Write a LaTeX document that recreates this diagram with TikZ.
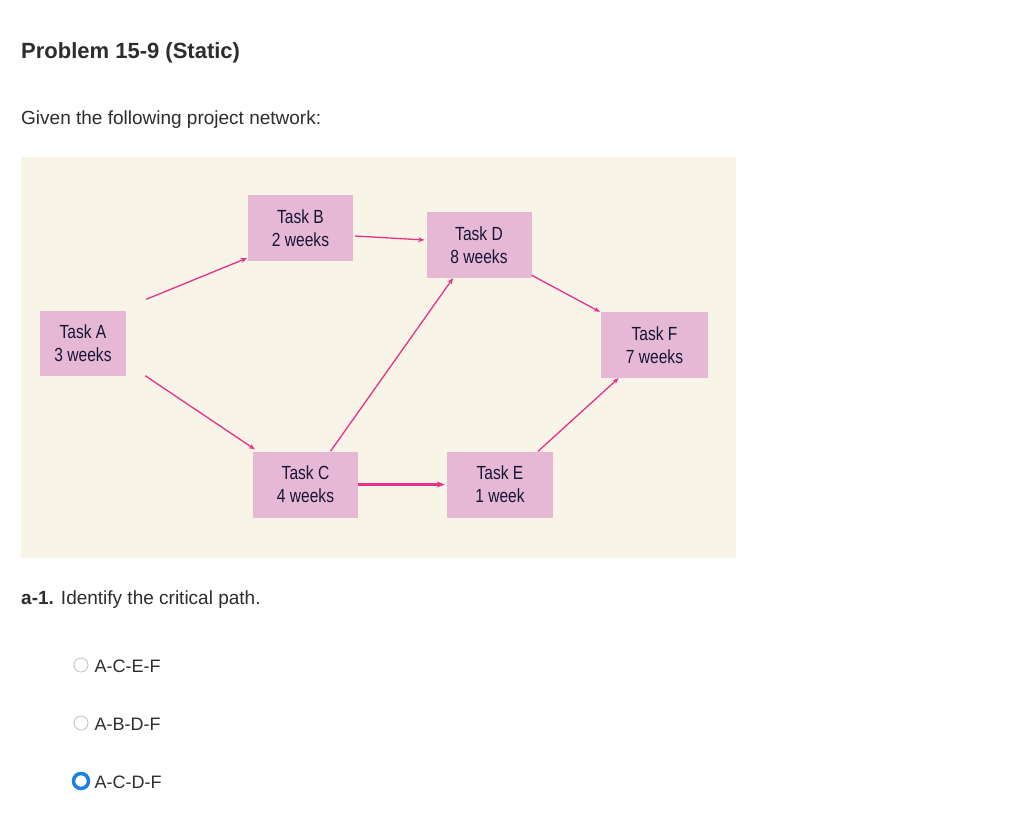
\documentclass[tikz,border=0pt]{standalone}
\usepackage{fontspec}
\setmainfont{Liberation Sans}
\usetikzlibrary{arrows.meta}
\definecolor{bg}{HTML}{F8F5E8}
\definecolor{boxc}{HTML}{E6B8D6}
\definecolor{arr}{HTML}{E8308A}
\definecolor{txt}{HTML}{2D2D2D}
\definecolor{radio}{HTML}{1A7FE8}
\newcommand{\narrow}[1]{\scalebox{0.82}[1]{#1}}
\begin{document}
\begin{tikzpicture}[x=1pt,y=-1pt,
  task/.style={fill=boxc,draw=none,minimum width=105pt,minimum height=66pt,align=center,font=\fontsize{19}{23}\selectfont,text=txt!80!blue!60!black,inner sep=0pt},
  link/.style={draw=arr,line width=1.3pt,-{Stealth[length=6pt,width=5pt]}},
  opt/.style={anchor=west,font=\fontsize{18}{21}\selectfont,text=txt},
  radiooff/.style={circle,draw=black!25,line width=0.8pt,minimum size=14pt,inner sep=0pt}]
\useasboundingbox (0,0) rectangle (1024,822);
\fill[white] (0,0) rectangle (1024,822);
\node[anchor=west,font=\bfseries\fontsize{22}{26}\selectfont,text=txt,inner sep=0pt] (title) at (21,53) {Problem 15-9 (Static)};
\node[anchor=west,font=\fontsize{19}{23}\selectfont,text=txt,inner sep=0pt] (given) at (21,120) {Given the following project network:};
\fill[bg] (21,157) rectangle (736,558);
\node[task,minimum width=86pt,minimum height=65pt] (A) at (83,343) {\narrow{Task A}\\\narrow{3 weeks}};
\node[task] (B) at (300.5,228) {\narrow{Task B}\\\narrow{2 weeks}};
\node[task] (D) at (479,245) {\narrow{Task D}\\\narrow{8 weeks}};
\node[task,minimum width=107pt] (F) at (654.5,345) {\narrow{Task F}\\\narrow{7 weeks}};
\node[task] (C) at (305.5,484.5) {\narrow{Task C}\\\narrow{4 weeks}};
\node[task,minimum width=106pt] (E) at (500,484.5) {\narrow{Task E}\\\narrow{1 week}};
\draw[link] ([shift={(20,-11)}]A.north east) -- ([shift={(-1,-3)}]B.south west);
\draw[link] ([shift={(2,8)}]B.east) -- ([shift={(-2,-5)}]D.west);
\draw[link] ([shift={(19,0)}]A.south east) -- ([shift={(2,-2)}]C.north west);
\draw[link] ([xshift={25pt}]C.north) -- ([xshift={-26pt}]D.south);
\draw[link] ([shift={(0,-3)}]D.south east) -- ([shift={(-1,0)}]F.north west);
\draw[link] ([xshift={38pt}]E.north) -- ([xshift={-36pt}]F.south);
\draw[draw=arr,line width=3pt,-{Stealth[length=8pt,width=6pt]}] (C.east) -- ([xshift=-2pt]E.west);
\node[anchor=west,font=\fontsize{19}{23}\selectfont,text=txt,inner sep=0pt] (q) at (21,600) {\textbf{a-1.} Identify the critical path.};
\node[radiooff] (r1) at (81,665) {};
\node[opt] (o1) at (91,666) {A-C-E-F};
\node[radiooff] (r2) at (81,723) {};
\node[opt] (o2) at (91,724) {A-B-D-F};
\node[circle,draw=radio,fill=white,line width=3.5pt,minimum size=15pt,inner sep=0pt] (r3) at (81,781) {};
\node[opt] (o3) at (91,782) {A-C-D-F};
\end{tikzpicture}
\end{document}
